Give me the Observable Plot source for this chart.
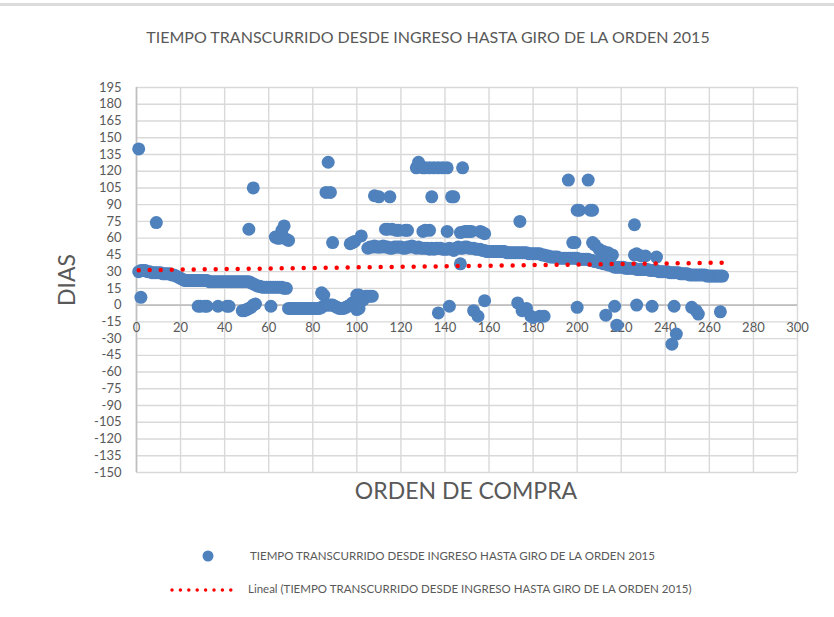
<!DOCTYPE html>
<html>
<head>
<meta charset="utf-8">
<script src="https://cdn.jsdelivr.net/npm/d3@7"></script>
<script src="https://cdn.jsdelivr.net/npm/@observablehq/plot@0.6"></script>
<style>
  body { margin: 0; background: #fff; font-family: Lato, sans-serif; }
  #chart { position: relative; width: 834px; height: 617px; overflow: hidden; }
</style>
</head>
<body>
<div id="chart"></div>
<script>
// ---- Data ----
const titulo = "TIEMPO TRANSCURRIDO DESDE INGRESO HASTA GIRO DE LA ORDEN 2015";
const etiquetaX = "ORDEN DE COMPRA";
const etiquetaY = "DIAS";
const leyendaSerie = "TIEMPO TRANSCURRIDO DESDE INGRESO HASTA GIRO DE LA ORDEN 2015";
const leyendaTendencia = "Lineal (TIEMPO TRANSCURRIDO DESDE INGRESO HASTA GIRO DE LA ORDEN 2015)";

const xTicks = [0, 20, 40, 60, 80, 100, 120, 140, 160, 180, 200, 220, 240, 260, 280, 300];
const yTicks = [195, 180, 165, 150, 135, 120, 105, 90, 75, 60, 45, 30, 15, 0, -15, -30, -45, -60, -75, -90, -105, -120, -135, -150];

// main band: dias for orden 1..266 (one value per order number)
const diasBanda = [
  30,31,31,31,30,30,29,29,29,
  29,29,28,28,28,28,27,27,
  26,25,24,23,22,
  22,22,22,22,22,22,22,22,22,22,21,21,21,21,21,21,21,21,21,21,21,21,21,21,21,21,21,21,
  21,20,19,18,17,17,16,16,16,16,16,16,16,16,16,16,15,15,
  -3,-3,-3,-3,-3,-3,-3,-3,-3,-3,-3,-3,-3,-3,-3,-2,
  9,0,0,0,0,-1,-2,-3,-3,-3,-2,-1,0,2,3,9,9,4,5,8,
  51,52,52,53,52,52,52,53,52,52,51,51,52,52,52,52,51,51,52,52,53,52,51,52,51,
  51,51,51,50,51,50,51,51,51,50,50,50,51,50,49,51,52,51,51,
  52,52,51,51,51,50,50,50,49,49,48,48,
  48,48,48,48,48,48,48,47,47,47,47,47,47,47,47,47,47,46,46,46,46,46,
  46,45,45,44,44,43,43,43,43,42,42,42,42,42,42,42,
  42,42,41,41,41,41,41,40,40,39,39,38,38,37,37,36,36,
  35,34,34,34,34,34,33,33,33,33,33,32,32,32,32,32,32,
  31,31,31,31,30,30,30,30,30,29,29,29,29,29,
  28,28,28,28,27,27,27,27,27,27,27,27,26,26,26,26,26,26,26,26
];

// scattered orders away from the band
const ordenOtros = [1,2,9,28,29,31,32,37,41,42,48,49,50,51,52,53,54,51,53,61,63,64,65,66,67,68,69,84,86,87,88,89,97,98,99,102,100,101,105,106,107,
  108,110,115,113,114,116,118,119,122,123,130,131,133,141,147,127,128,129,130,131,133,135,137,139,141,148,134,143,144,137,142,147,
  149,150,151,152,156,157,158,153,155,158,173,175,177,179,180,183,185,174,196,198,199,200,201,205,206,207,207,208,210,212,214,216,226,
  200,213,217,218,227,234,244,243,245,226,227,229,231,236,252,254,255,265];
const diasOtros = [140,7,74,-1,-1,-1,-1,-1,-1,-1,-5,-5,-4,-3,-2,0,1,68,105,-1,61,60,60,67,71,59,58,11,101,128,101,56,55,56,57,62,-4,-3,8,8,8,
  98,97,97,68,68,68,67,67,67,67,66,67,67,66,65,123,128,124,123,123,123,123,123,123,123,123,97,97,97,-7,-1,37,
  66,66,66,66,66,65,64,-5,-10,4,2,-5,-3,-10,-11,-10,-10,75,112,56,56,85,85,112,85,85,56,54,50,48,47,45,72,
  -2,-9,-1,-18,0,-1,-1,-35,-26,45,46,44,44,43,-2,-5,-8,-6];

// linear trend line (end points)
const ordenTendencia = [1, 266];
const diasTendencia = [31.3, 38.0];

// ---- Build tables ----
const banda = diasBanda.map((d, i) => ({orden: i + 1, dias: d}));
const otros = ordenOtros.map((o, i) => ({orden: o, dias: diasOtros[i]}));
const puntos = banda.concat(otros);
const tendencia = ordenTendencia.map((o, i) => ({orden: o, dias: diasTendencia[i]}));

const azul = "#4f81bd";
const gris = "#595959";

const plot = Plot.plot({
  width: 834,
  height: 617,
  marginLeft: 136,
  marginRight: 37,
  marginTop: 87,
  marginBottom: 145,
  x: {domain: [0, 300], axis: null},
  y: {domain: [-150, 195], axis: null},
  style: {fontFamily: "Lato, sans-serif", color: gris, background: "transparent", overflow: "visible"},
  marks: [
    Plot.ruleX(xTicks, {stroke: "#d9d9d9", strokeWidth: 1.4}),
    Plot.ruleY(yTicks, {stroke: "#d9d9d9", strokeWidth: 1.4}),
    Plot.ruleX([0], {stroke: "#bfbfbf", strokeWidth: 1.6}),
    Plot.ruleY([0], {stroke: "#bfbfbf", strokeWidth: 1.6}),
    Plot.text(yTicks, {x: 0, y: d => d, text: d => String(d), dx: -15, textAnchor: "end", fontSize: 13, fill: gris}),
    Plot.text(xTicks, {x: d => d, y: 0, text: d => String(d), dy: 23, fontSize: 13, fill: gris}),
    Plot.dot(puntos, {x: "orden", y: "dias", r: 6.5, fill: azul, stroke: "none"}),
    Plot.line(tendencia, {x: "orden", y: "dias", stroke: "#ff0000", strokeWidth: 4.5,
      strokeDasharray: "0 11", strokeLinecap: "round"})
  ]
});

document.getElementById("chart").appendChild(plot);

const svg = d3.select(plot);
svg.insert("rect", ":first-child").attr("x", 0).attr("y", 3).attr("width", 834).attr("height", 3).attr("fill", "#dcdcdc");

svg.append("text").attr("x", 428).attr("y", 39).attr("text-anchor", "middle").attr("dominant-baseline", "middle")
  .attr("font-size", 16).attr("fill", gris).text(titulo);

svg.append("text").attr("x", 466).attr("y", 493).attr("text-anchor", "middle").attr("dominant-baseline", "middle")
  .attr("font-size", 23).attr("fill", gris).text(etiquetaX);

svg.append("text").attr("transform", "translate(69,280) rotate(-90)").attr("text-anchor", "middle").attr("dominant-baseline", "middle")
  .attr("font-size", 23).attr("fill", gris).text(etiquetaY);

// legend
svg.append("circle").attr("cx", 208).attr("cy", 556).attr("r", 5.5).attr("fill", azul);
svg.append("text").attr("x", 250).attr("y", 557).attr("text-anchor", "start").attr("dominant-baseline", "middle")
  .attr("font-size", 11.5).attr("fill", gris).text(leyendaSerie);
svg.append("line").attr("x1", 172).attr("x2", 232).attr("y1", 590).attr("y2", 590)
  .attr("stroke", "#ff0000").attr("stroke-width", 3.5).attr("stroke-linecap", "round").attr("stroke-dasharray", "0 8.4");
svg.append("text").attr("x", 248).attr("y", 590).attr("text-anchor", "start").attr("dominant-baseline", "middle")
  .attr("font-size", 11.5).attr("fill", gris).text(leyendaTendencia);
</script>
</body>
</html>
